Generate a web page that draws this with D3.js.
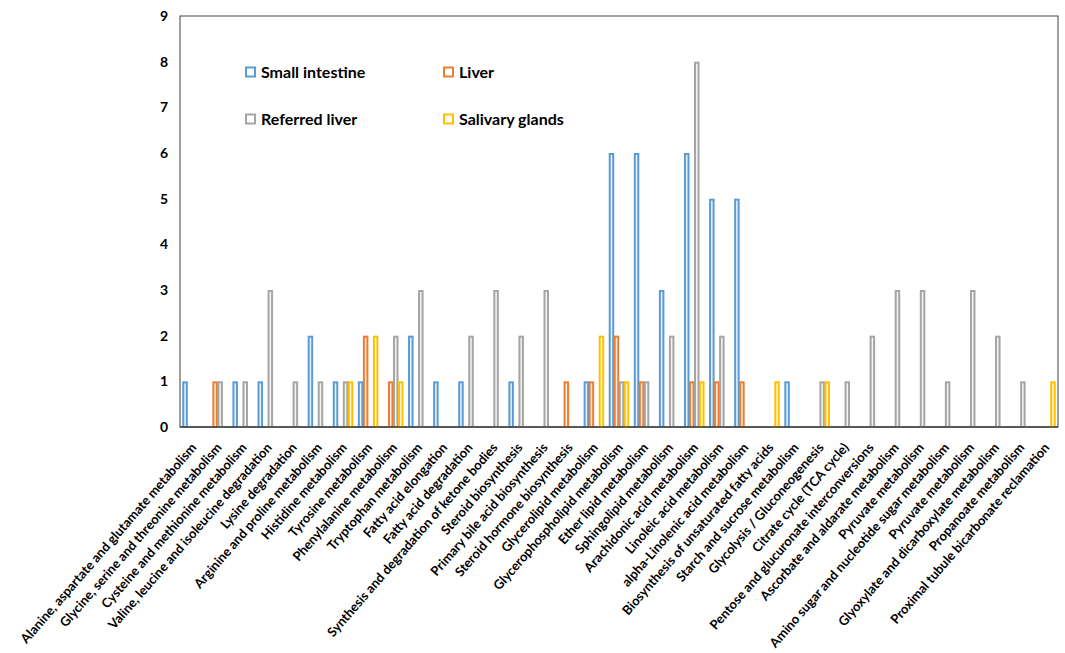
<!DOCTYPE html>
<html>
<head>
<meta charset="utf-8">
<script src="https://cdn.jsdelivr.net/npm/d3@7"></script>
<style>
  html, body { margin: 0; padding: 0; background: #fff; }
  svg { display: block; font-family: Lato, "Open Sans", sans-serif; }
</style>
</head>
<body>
<svg id="chart" width="1065" height="653"></svg>
<script>
// Metabolic pathways (x categories)
const categories = [
  "Alanine, aspartate and glutamate metabolism",
  "Glycine, serine and threonine metabolism",
  "Cysteine and methionine metabolism",
  "Valine, leucine and isoleucine degradation",
  "Lysine degradation",
  "Arginine and proline metabolism",
  "Histidine metabolism",
  "Tyrosine metabolism",
  "Phenylalanine metabolism",
  "Tryptophan metabolism",
  "Fatty acid elongation",
  "Fatty acid degradation",
  "Synthesis and degradation of ketone bodies",
  "Steroid biosynthesis",
  "Primary bile acid biosynthesis",
  "Steroid hormone biosynthesis",
  "Glycerolipid metabolism",
  "Glycerophospholipid metabolism",
  "Ether lipid metabolism",
  "Sphingolipid metabolism",
  "Arachidonic acid metabolism",
  "Linoleic acid metabolism",
  "alpha-Linolenic acid metabolism",
  "Biosynthesis of unsaturated fatty acids",
  "Starch and sucrose metabolism",
  "Glycolysis / Gluconeogenesis",
  "Citrate cycle (TCA cycle)",
  "Pentose and glucuronate interconversions",
  "Ascorbate and aldarate metabolism",
  "Pyruvate metabolism",
  "Amino sugar and nucleotide sugar metabolism",
  "Pyruvate metabolism",
  "Glyoxylate and dicarboxylate metabolism",
  "Propanoate metabolism",
  "Proximal tubule bicarbonate reclamation"
];

// Counts per tissue
const smallIntestine = [1,0,1,1,0,2,1,1,0,2,1,1,0,1,0,0,1,6,6,3,6,5,5,0,1,0,0,0,0,0,0,0,0,0,0];
const liver          = [0,1,0,0,0,0,0,2,1,0,0,0,0,0,0,1,1,2,1,0,1,1,1,0,0,0,0,0,0,0,0,0,0,0,0];
const referredLiver  = [0,1,1,3,1,1,1,0,2,3,0,2,3,2,3,0,0,1,1,2,8,2,0,0,0,1,1,2,3,3,1,3,2,1,0];
const salivaryGlands = [0,0,0,0,0,0,1,2,1,0,0,0,0,0,0,0,2,1,0,0,1,0,0,1,0,1,0,0,0,0,0,0,0,0,1];

const seriesNames  = ["Small intestine", "Liver", "Referred liver", "Salivary glands"];
const seriesValues = [smallIntestine, liver, referredLiver, salivaryGlands];
const seriesColors = ["#5B9BD5", "#ED7D31", "#A5A5A5", "#FFC000"];
const yTicks = [0, 1, 2, 3, 4, 5, 6, 7, 8, 9];

const svg = d3.select("#chart");
const plot = { left: 180, right: 1058, top: 16, bottom: 427 };

const keys = categories.map((c, i) => i);
const x0 = d3.scaleBand().domain(keys).range([plot.left, plot.right])
  .paddingInner(0.2).paddingOuter(0.1);
const x1 = d3.scaleBand().domain(d3.range(seriesNames.length)).range([0, x0.bandwidth()]);
const y = d3.scaleLinear().domain([0, 9]).range([plot.bottom, plot.top]);

// Plot frame
svg.append("rect")
  .attr("x", plot.left).attr("y", plot.top)
  .attr("width", plot.right - plot.left).attr("height", plot.bottom - plot.top)
  .attr("fill", "none").attr("stroke", "#404040").attr("stroke-width", 1);

// Bars
const groups = svg.append("g").selectAll("g")
  .data(keys).join("g")
  .attr("transform", d => `translate(${x0(d)},0)`);

groups.selectAll("rect")
  .data(i => seriesValues.map((vals, s) => ({ s, v: vals[i] })).filter(d => d.v > 0))
  .join("rect")
  .attr("x", d => x1(d.s) + 0.75)
  .attr("width", x1.bandwidth() - 1.5)
  .attr("y", d => y(d.v) + 1)
  .attr("height", d => y(0) - y(d.v) - 1)
  .attr("fill", d => seriesColors[d.s]).attr("fill-opacity", 0.12)
  .attr("stroke", d => seriesColors[d.s]).attr("stroke-width", 2);

// Baseline
svg.append("line")
  .attr("x1", plot.left).attr("x2", plot.right)
  .attr("y1", y(0)).attr("y2", y(0))
  .attr("stroke", "#404040").attr("stroke-width", 1.5);

// Y axis labels
const yAxis = d3.axisLeft(y).tickValues(yTicks).tickSize(0).tickPadding(12).tickFormat(d3.format("d"));
const gy = svg.append("g").attr("transform", `translate(${plot.left},0)`).call(yAxis);
gy.select(".domain").remove();
gy.selectAll("text").attr("font-family", "Lato, sans-serif")
  .attr("font-weight", "bold").attr("font-size", 14).attr("fill", "#000");

// X axis labels, rotated
const xAxis = d3.axisBottom(x0).tickSize(0).tickFormat(i => categories[i]);
const gx = svg.append("g").attr("transform", `translate(0,${plot.bottom})`).call(xAxis);
gx.select(".domain").remove();
gx.selectAll("text")
  .attr("font-family", "Lato, sans-serif")
  .attr("font-weight", "bold").attr("font-size", 13).attr("fill", "#000")
  .attr("text-anchor", "end")
  .attr("dy", "0.35em")
  .attr("transform", "translate(-1,16) rotate(-49)");

// Legend
const legendItems = [
  { s: 0, x: 246, y: 72 },
  { s: 1, x: 444, y: 72 },
  { s: 2, x: 246, y: 119 },
  { s: 3, x: 444, y: 119 }
];
const lg = svg.append("g").selectAll("g").data(legendItems).join("g")
  .attr("transform", d => `translate(${d.x},${d.y})`);
lg.append("rect")
  .attr("x", 0).attr("y", -4.5).attr("width", 9).attr("height", 9)
  .attr("fill", "#fff")
  .attr("stroke", d => seriesColors[d.s]).attr("stroke-width", 2);
lg.append("text")
  .attr("x", 15).attr("dy", "0.35em")
  .attr("font-family", "Lato, sans-serif")
  .attr("font-weight", "bold").attr("font-size", 16).attr("fill", "#000")
  .text(d => seriesNames[d.s]);
</script>
</body>
</html>
